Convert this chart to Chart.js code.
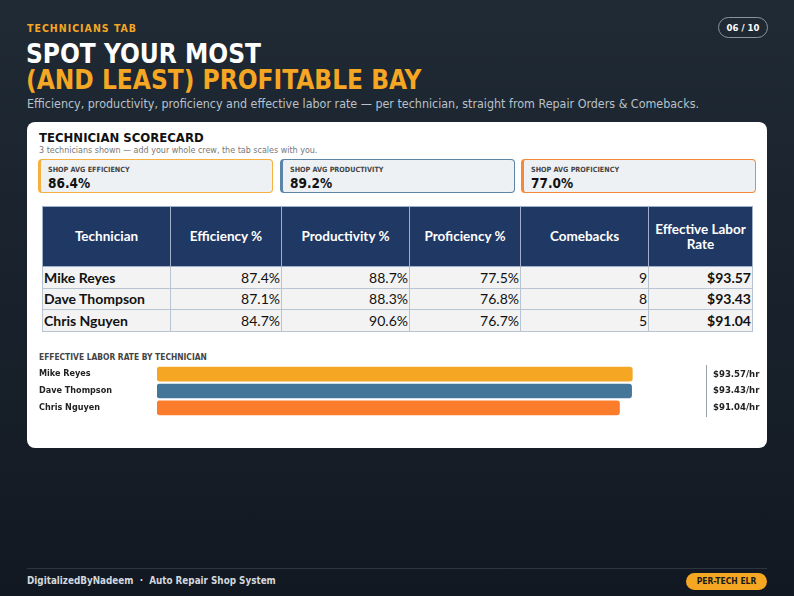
<!DOCTYPE html>
<html>
<head>
<meta charset="utf-8">
<script src="https://cdn.jsdelivr.net/npm/chart.js@4"></script>
<style>
  html, body { margin: 0; padding: 0; }
  body {
    width: 794px; height: 596px; overflow: hidden; position: relative;
    background: linear-gradient(180deg, #202a34 0%, #18212b 55%, #121821 100%);
    font-family: "DejaVu Sans Condensed", "DejaVu Sans", sans-serif;
  }
  .abs { position: absolute; }
  .eyebrow { left: 27px; top: 22px; color: #f5a623; font-size: 10.5px; font-weight: bold; letter-spacing: 1px; }
  .pill { left: 718px; top: 17px; width: 48px; height: 19px; border: 1px solid #8a939e; border-radius: 11px;
    color: #fff; font-size: 9.5px; font-weight: bold; text-align: center; line-height: 19px; }
  .t1 { left: 26px; top: 42px; color: #fff; font-size: 26px; line-height: 24px; font-weight: bold; }
  .t2 { left: 26px; top: 68px; color: #f5a623; font-size: 26px; line-height: 24px; font-weight: bold; }
  .sub { left: 27px; top: 96px; color: #b9c1cb; font-size: 12.4px; }
  .card { left: 27px; top: 122px; width: 740px; height: 326px; background: #fff; border-radius: 8px; }
  .ctitle { left: 39px; top: 130px; color: #111; font-size: 13px; font-weight: bold; }
  .csub { left: 39px; top: 146px; color: #777; font-size: 8px; font-family: "DejaVu Sans", sans-serif; }
  .kpi { top: 159px; height: 32px; width: 231px; background: #eef1f4; border-radius: 4px; border: 1px solid; border-left-width: 3px; }
  .kpi .lab { position: absolute; left: 7px; top: 5px; font-size: 7.2px; font-weight: bold; color: #444; }
  .kpi .val { position: absolute; left: 7px; top: 15px; font-size: 13.5px; font-weight: bold; color: #111; }
  table { left: 42px; top: 206px; border-collapse: collapse; font-family: Lato, sans-serif; table-layout: fixed; }
  th { background: #1f3864; color: #fff; font-size: 13.5px; font-weight: bold; height: 59px; padding: 0 4px;
    border: 1px solid #9fb0c8; text-align: center; line-height: 15px; }
  td { background: #f3f3f3; border: 1px solid #b9c4d2; height: 20.5px; font-size: 14px; color: #111; padding: 0 1px; text-align: right; }
  td.nm { text-align: left; font-weight: bold; }
  td.b { font-weight: bold; }
  .btitle { left: 39px; top: 352px; color: #444; font-size: 8.4px; font-weight: bold; }
  .chartbox { left: 35px; top: 353px; width: 729px; height: 76px; }
  .foot { left: 27px; top: 568px; width: 740px; height: 1px; background: #2c3540; }
  .ftext { left: 27px; top: 575px; color: #d3d8de; font-size: 9.8px; font-weight: bold; }
  .fpill { left: 686px; top: 573px; width: 81px; height: 17px; border-radius: 9px; background: #f5a623; color: #1a1a1a;
    font-size: 8.5px; font-weight: bold; text-align: center; line-height: 17px; }
</style>
</head>
<body>
<div class="abs eyebrow">TECHNICIANS TAB</div>
<div class="abs pill">06 / 10</div>
<div class="abs t1">SPOT YOUR MOST</div>
<div class="abs t2">(AND LEAST) PROFITABLE BAY</div>
<div class="abs sub">Efficiency, productivity, proficiency and effective labor rate — per technician, straight from Repair Orders &amp; Comebacks.</div>

<div class="abs card"></div>
<div class="abs ctitle">TECHNICIAN SCORECARD</div>
<div class="abs csub">3 technicians shown — add your whole crew, the tab scales with you.</div>
<div id="kpis"></div>

<table class="abs" id="score">
  <colgroup>
    <col style="width:128px"><col style="width:111px"><col style="width:128px">
    <col style="width:111px"><col style="width:128px"><col style="width:104px">
  </colgroup>
  <thead><tr>
    <th>Technician</th><th>Efficiency %</th><th>Productivity %</th>
    <th>Proficiency %</th><th>Comebacks</th><th>Effective Labor Rate</th>
  </tr></thead>
  <tbody></tbody>
</table>

<div class="abs btitle">EFFECTIVE LABOR RATE BY TECHNICIAN</div>
<div class="abs chartbox"><canvas id="elrChart" width="729" height="76"></canvas></div>

<div class="abs foot"></div>
<div class="abs ftext">DigitalizedByNadeem &nbsp;·&nbsp; Auto Repair Shop System</div>
<div class="abs fpill">PER-TECH ELR</div>

<script>
// Technician scorecard data
const technicians = ['Mike Reyes', 'Dave Thompson', 'Chris Nguyen'];
const efficiency = [87.4, 87.1, 84.7];
const productivity = [88.7, 88.3, 90.6];
const proficiency = [77.5, 76.8, 76.7];
const comebacks = [9, 8, 5];
const laborRate = [93.57, 93.43, 91.04];

const barColors = ['#f5a623', '#44769a', '#fb7c2a'];

function avg(arr) {
  return arr.reduce((a, b) => a + b, 0) / arr.length;
}

// KPI boxes
const kpis = [
  { label: 'SHOP AVG EFFICIENCY', value: avg(efficiency), color: '#f5b040', left: 38 },
  { label: 'SHOP AVG PRODUCTIVITY', value: avg(productivity), color: '#5b84a6', left: 280 },
  { label: 'SHOP AVG PROFICIENCY', value: avg(proficiency), color: '#f7883a', left: 521 }
];
const kpiWrap = document.getElementById('kpis');
kpis.forEach(k => {
  const box = document.createElement('div');
  box.className = 'abs kpi';
  box.style.left = k.left + 'px';
  box.style.borderColor = k.color;
  box.innerHTML = '<div class="lab">' + k.label + '</div><div class="val">' + k.value.toFixed(1) + '%</div>';
  kpiWrap.appendChild(box);
});

// Table rows
const tbody = document.querySelector('#score tbody');
technicians.forEach((name, i) => {
  const tr = document.createElement('tr');
  tr.innerHTML =
    '<td class="nm">' + name + '</td>' +
    '<td>' + efficiency[i].toFixed(1) + '%</td>' +
    '<td>' + productivity[i].toFixed(1) + '%</td>' +
    '<td>' + proficiency[i].toFixed(1) + '%</td>' +
    '<td>' + comebacks[i] + '</td>' +
    '<td class="b">$' + laborRate[i].toFixed(2) + '</td>';
  tbody.appendChild(tr);
});

// ELR bar chart
new Chart(document.getElementById('elrChart'), {
  type: 'bar',
  data: {
    labels: technicians,
    datasets: [{
      data: laborRate,
      backgroundColor: barColors,
      borderRadius: 3,
      borderSkipped: false,
      barThickness: 14
    }]
  },
  options: {
    indexAxis: 'y',
    responsive: false,
    animation: false,
    layout: { padding: { left: 4, right: 0, top: 0, bottom: 0 } },
    plugins: { legend: { display: false }, tooltip: { enabled: false } },
    scales: {
      x: {
        min: 0,
        max: Math.max(...laborRate) * 1.155,
        display: false
      },
      y: {
        position: 'left',
        grid: { display: false, drawTicks: false },
        border: { display: false },
        afterFit: scale => { scale.width = 118; },
        ticks: {
          crossAlign: 'far', autoSkip: false, color: '#222',
          font: { family: 'DejaVu Sans Condensed', size: 9, weight: 'bold' }
        }
      },
      y2: {
        type: 'category',
        position: 'right',
        labels: laborRate.map(v => '$' + v.toFixed(2) + '/hr'),
        offset: true,
        grid: { display: false, drawTicks: false },
        border: { display: true, color: '#9aa3ad', width: 1 },
        afterFit: scale => { scale.width = 58; },
        ticks: {
          padding: 7, autoSkip: false, color: '#222',
          font: { family: 'DejaVu Sans Condensed', size: 9.5, weight: 'bold' }
        }
      }
    }
  }
});
</script>
</body>
</html>
